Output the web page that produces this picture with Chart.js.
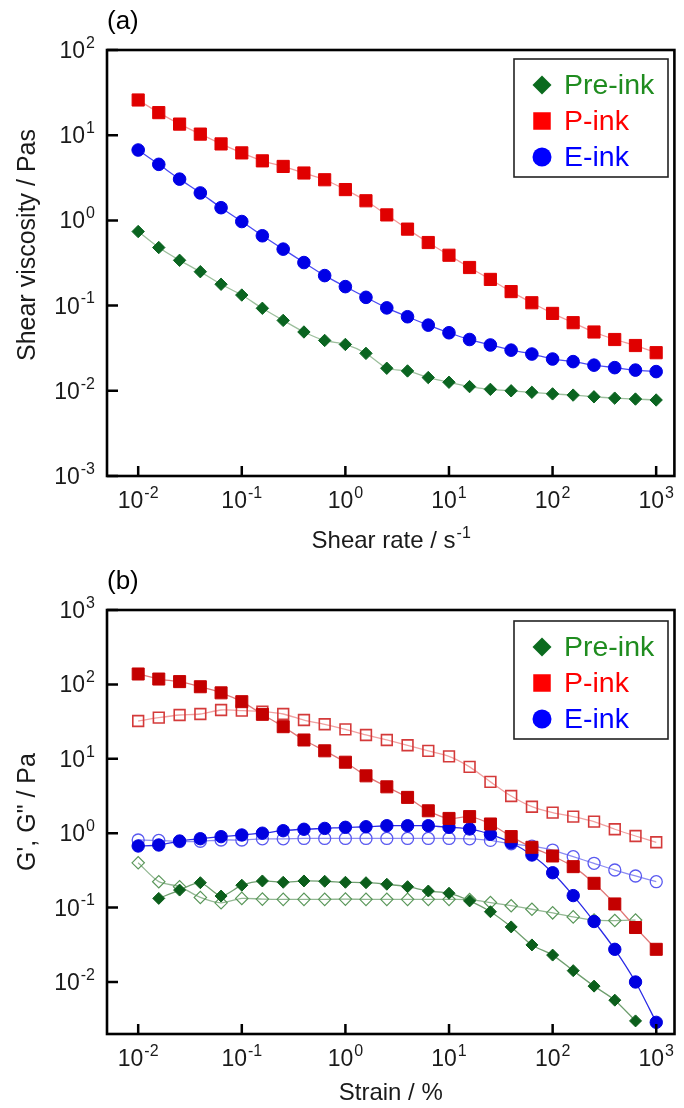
<!DOCTYPE html>
<html>
<head>
<meta charset="utf-8">
<script src="https://cdn.jsdelivr.net/npm/chart.js@4.4.1/dist/chart.umd.min.js"></script>
<style>
  html, body { margin: 0; padding: 0; background: #fff; }
  canvas { position: absolute; left: 0; }
  #chartA { top: 0; }
  #chartB { top: 560px; }
</style>
</head>
<body>
<canvas id="chartA" width="684" height="560"></canvas>
<canvas id="chartB" width="684" height="548"></canvas>
<script>
// ---- (a) steady shear viscosity ----
const shearRate = [0.01, 0.0158, 0.0251, 0.0398, 0.0631, 0.1, 0.158, 0.251, 0.398, 0.631,
  1, 1.58, 2.51, 3.98, 6.31, 10, 15.8, 25.1, 39.8, 63.1, 100, 158, 251, 398, 631, 1000];
const viscPre = [0.74, 0.48, 0.34, 0.25, 0.178, 0.133, 0.093, 0.067, 0.049, 0.039,
  0.035, 0.0275, 0.0184, 0.0171, 0.0143, 0.0126, 0.0112, 0.0104, 0.0100, 0.0096,
  0.0092, 0.0089, 0.0085, 0.0082, 0.0080, 0.0078];
const viscP = [25.9, 18.4, 13.5, 10.3, 7.9, 6.2, 5.0, 4.3, 3.6, 3.0,
  2.3, 1.7, 1.16, 0.79, 0.55, 0.39, 0.28, 0.203, 0.146, 0.108,
  0.081, 0.063, 0.049, 0.040, 0.034, 0.028];
const viscE = [6.7, 4.55, 3.05, 2.1, 1.41, 0.97, 0.66, 0.46, 0.32, 0.225,
  0.167, 0.125, 0.094, 0.074, 0.059, 0.048, 0.040, 0.0345, 0.030, 0.027,
  0.0236, 0.022, 0.020, 0.0187, 0.0175, 0.0168];

// ---- (b) amplitude sweep, storage (G') and loss (G'') moduli ----
const strain = [0.01, 0.0158, 0.0251, 0.0398, 0.0631, 0.1, 0.158, 0.251, 0.398, 0.631,
  1, 1.58, 2.51, 3.98, 6.31, 10, 15.8, 25.1, 39.8, 63.1, 100, 158, 251, 398, 631, 1000];
const gPrimePre = [null, 0.133, 0.172, 0.216, 0.143, 0.200, 0.228, 0.219, 0.228, 0.226,
  0.219, 0.216, 0.206, 0.191, 0.167, 0.156, 0.123, 0.088, 0.055, 0.0315,
  0.023, 0.0142, 0.0088, 0.0057, 0.0030, null];
const gDoublePre = [0.40, 0.223, 0.191, 0.137, 0.116, 0.133, 0.130, 0.129, 0.129, 0.129,
  0.130, 0.129, 0.129, 0.129, 0.129, 0.129, 0.128, 0.117, 0.106, 0.095,
  0.085, 0.075, 0.068, 0.067, 0.068, null];
const gPrimeP = [138, 118, 109, 93, 77, 58.6, 39.6, 27, 17.9, 12.8,
  9.0, 5.9, 4.2, 3.03, 2.0, 1.58, 1.67, 1.33, 0.90, 0.646,
  0.494, 0.355, 0.212, 0.112, 0.054, 0.0275];
const gDoubleP = [32.2, 35.7, 38.8, 40, 45.3, 44.4, 43, 40, 33.2, 29.1,
  24.9, 20.9, 17.9, 15.2, 12.8, 10.8, 7.8, 4.9, 3.16, 2.27,
  1.89, 1.67, 1.43, 1.13, 0.917, 0.755];
const gPrimeE = [0.673, 0.694, 0.785, 0.843, 0.898, 0.946, 1.0, 1.08, 1.13, 1.16,
  1.2, 1.22, 1.26, 1.26, 1.26, 1.2, 1.14, 0.966, 0.745, 0.509,
  0.294, 0.145, 0.065, 0.0275, 0.010, 0.00287];
const gDoubleE = [0.81, 0.80, 0.77, 0.78, 0.81, 0.81, 0.84, 0.84, 0.85, 0.85,
  0.85, 0.85, 0.85, 0.85, 0.85, 0.85, 0.84, 0.80, 0.72, 0.67,
  0.594, 0.483, 0.394, 0.32, 0.266, 0.223];

const legendItems = [
  { label: 'Pre-ink', shape: 'diamond', fill: '#0b6b1e', text: '#1f8c1f' },
  { label: 'P-ink',   shape: 'square',  fill: '#ff0000', text: '#ff0000' },
  { label: 'E-ink',   shape: 'circle',  fill: '#0000ff', text: '#0000ff' }
];

const FONT = '"Liberation Sans", Arial, Helvetica, sans-serif';
const TICK_SIZE = 23;
const TITLE_SIZE = 24;
const Y_TITLE_SIZE = 25;

function toPoints(xs, ys) {
  const pts = [];
  xs.forEach((x, i) => { if (ys[i] != null) pts.push({ x: x, y: ys[i] }); });
  return pts;
}

// "10" with a raised exponent
function powLabel(ctx, exp, x, baseline, align, size) {
  const supSize = Math.round(size * 0.68);
  const base = '10', sup = String(exp);
  ctx.font = size + 'px ' + FONT;
  const wb = ctx.measureText(base).width;
  ctx.font = supSize + 'px ' + FONT;
  const ws = ctx.measureText(sup).width;
  const total = wb + 1 + ws;
  const left = align === 'center' ? x - total / 2 : x - total;
  ctx.textAlign = 'left';
  ctx.textBaseline = 'alphabetic';
  ctx.font = size + 'px ' + FONT;
  ctx.fillText(base, left, baseline);
  ctx.font = supSize + 'px ' + FONT;
  ctx.fillText(sup, left + wb + 1, baseline - size * 0.44);
}

function marker(ctx, shape, x, y, color) {
  ctx.fillStyle = color;
  ctx.beginPath();
  if (shape === 'diamond') {
    const r = 9.5;
    ctx.moveTo(x, y - r); ctx.lineTo(x + r, y); ctx.lineTo(x, y + r); ctx.lineTo(x - r, y);
    ctx.closePath();
  } else if (shape === 'square') {
    const s = 17.5;
    ctx.rect(x - s / 2, y - s / 2, s, s);
  } else {
    ctx.arc(x, y, 9.5, 0, Math.PI * 2);
  }
  ctx.fill();
}

function decades(scale) {
  const out = [];
  const lo = Math.ceil(Math.log10(scale.min) - 1e-9);
  const hi = Math.floor(Math.log10(scale.max) + 1e-9);
  for (let e = lo; e <= hi; e++) out.push(e);
  return out;
}

// frame with inward ticks, power-of-ten labels, titles, panel tag and legend box
const decorations = {
  id: 'decorations',
  afterDatasetsDraw(chart, args, o) {
    const { ctx, chartArea: a, scales } = chart;
    const xs = scales.x, ys = scales.y;
    ctx.save();
    ctx.fillStyle = '#000';
    ctx.strokeStyle = '#000';

    // ticks
    ctx.lineWidth = 2.5;
    ctx.beginPath();
    decades(xs).forEach(e => {
      const px = xs.getPixelForValue(Math.pow(10, e));
      ctx.moveTo(px, a.bottom); ctx.lineTo(px, a.bottom - 10);
    });
    decades(ys).forEach(e => {
      const py = ys.getPixelForValue(Math.pow(10, e));
      ctx.moveTo(a.left, py); ctx.lineTo(a.left + 11, py);
    });
    ctx.stroke();

    // frame
    ctx.lineWidth = 2.6;
    ctx.strokeRect(a.left, a.top, a.right - a.left, a.bottom - a.top);

    // tick labels
    ctx.fillStyle = '#1a1a1a';
    decades(xs).forEach(e => {
      powLabel(ctx, e, xs.getPixelForValue(Math.pow(10, e)), a.bottom + o.xLabelGap, 'center', TICK_SIZE);
    });
    decades(ys).forEach(e => {
      powLabel(ctx, e, 95, ys.getPixelForValue(Math.pow(10, e)) + 8, 'right', TICK_SIZE);
    });

    // axis titles
    ctx.font = Y_TITLE_SIZE + 'px ' + FONT;
    ctx.textAlign = 'center';
    ctx.textBaseline = 'middle';
    ctx.save();
    ctx.translate(o.yTitleX, o.yTitleY);
    ctx.rotate(-Math.PI / 2);
    ctx.fillText(o.yTitle, 0, 0);
    ctx.restore();

    const cx = (a.left + a.right) / 2;
    ctx.font = TITLE_SIZE + 'px ' + FONT;
    const wMain = ctx.measureText(o.xTitle).width;
    let wSup = 0;
    if (o.xTitleSup) {
      ctx.font = '16px ' + FONT;
      wSup = ctx.measureText(o.xTitleSup).width;
    }
    const left = cx - (wMain + wSup) / 2;
    ctx.textAlign = 'left';
    ctx.textBaseline = 'alphabetic';
    ctx.font = TITLE_SIZE + 'px ' + FONT;
    ctx.fillText(o.xTitle, left, a.bottom + o.xTitleGap);
    if (o.xTitleSup) {
      ctx.font = '16px ' + FONT;
      ctx.fillText(o.xTitleSup, left + wMain + 1, a.bottom + o.xTitleGap - 10);
    }

    // panel tag
    ctx.fillStyle = '#000';
    ctx.font = '26px ' + FONT;
    ctx.textAlign = 'left';
    ctx.textBaseline = 'middle';
    ctx.fillText(o.panel, a.left, a.top - 28);

    // legend box
    const box = { l: 514, r: 668, t: a.top + o.legendTop, b: a.top + o.legendTop + 118 };
    ctx.fillStyle = '#fff';
    ctx.fillRect(box.l, box.t, box.r - box.l, box.b - box.t);
    ctx.lineWidth = 1.6;
    ctx.strokeStyle = '#222';
    ctx.strokeRect(box.l, box.t, box.r - box.l, box.b - box.t);
    legendItems.forEach((it, i) => {
      const yy = box.t + 26 + i * 36;
      marker(ctx, it.shape, 542, yy, it.fill);
      ctx.fillStyle = it.text;
      ctx.font = '28.5px ' + FONT;
      ctx.textAlign = 'left';
      ctx.textBaseline = 'middle';
      ctx.fillText(it.label, 564, yy + 1);
    });
    ctx.restore();
  }
};
Chart.register(decorations);

function lineSet(xs, ys, opt) {
  return Object.assign({
    data: toPoints(xs, ys),
    borderWidth: 1.3,
    pointBorderWidth: 1,
    tension: 0.25,
    fill: false
  }, opt);
}

function logAxis(min, max) {
  return { type: 'logarithmic', min: min, max: max, display: false };
}

function baseOptions(yMin, yMax, pad, deco) {
  return {
    responsive: false,
    animation: false,
    layout: { padding: pad },
    scales: { x: logAxis(0.005, 1500), y: logAxis(yMin, yMax) },
    plugins: { legend: { display: false }, tooltip: { enabled: false }, decorations: deco },
    elements: { point: { hoverRadius: 0 } }
  };
}

new Chart(document.getElementById('chartA'), {
  type: 'line',
  data: {
    datasets: [
      lineSet(shearRate, viscP, {
        label: 'P-ink', borderColor: '#f29a9a', pointStyle: 'rect', pointRadius: 8.6,
        pointBackgroundColor: '#e00000', pointBorderColor: '#e00000'
      }),
      lineSet(shearRate, viscE, {
        label: 'E-ink', borderColor: '#4a4af2', pointStyle: 'circle', pointRadius: 6.3,
        pointBackgroundColor: '#0000e6', pointBorderColor: '#0000e6'
      }),
      lineSet(shearRate, viscPre, {
        label: 'Pre-ink', borderColor: '#9dbf9d', pointStyle: 'rectRot', pointRadius: 6.2,
        pointBackgroundColor: '#0a6420', pointBorderColor: '#0a6420'
      })
    ]
  },
  options: baseOptions(0.001, 100, { left: 107, right: 5, top: 50, bottom: 84 }, {
    panel: '(a)', yTitle: 'Shear viscosity / Pas', yTitleX: 28, yTitleY: 245,
    xTitle: 'Shear rate / s', xTitleSup: '-1', xLabelGap: 32, xTitleGap: 72, legendTop: 9
  })
});

new Chart(document.getElementById('chartB'), {
  type: 'line',
  data: {
    datasets: [
      lineSet(strain, gPrimeP, {
        label: "P-ink G'", order: 0, borderColor: '#e07878', pointStyle: 'rect', pointRadius: 8.5,
        pointBackgroundColor: '#c40000', pointBorderColor: '#c40000'
      }),
      lineSet(strain, gDoubleP, {
        label: 'P-ink G"', order: 1, borderColor: '#f0a0a0', pointStyle: 'rect', pointRadius: 7.6,
        pointBackgroundColor: 'rgba(255,255,255,0)', pointBorderColor: '#d43a3a', pointBorderWidth: 1.6
      }),
      lineSet(strain, gPrimeE, {
        label: "E-ink G'", order: 0, borderColor: '#2a2ae6', pointStyle: 'circle', pointRadius: 6.2,
        pointBackgroundColor: '#0000e0', pointBorderColor: '#0000e0'
      }),
      lineSet(strain, gDoubleE, {
        label: 'E-ink G"', order: 1, borderColor: '#8c8cf2', pointStyle: 'circle', pointRadius: 6,
        pointBackgroundColor: 'rgba(255,255,255,0)', pointBorderColor: '#5a5af0', pointBorderWidth: 1.3
      }),
      lineSet(strain, gPrimePre, {
        label: "Pre-ink G'", order: 0, borderColor: '#6f9f6f', pointStyle: 'rectRot', pointRadius: 6,
        pointBackgroundColor: '#0b5e1b', pointBorderColor: '#0b5e1b'
      }),
      lineSet(strain, gDoublePre, {
        label: 'Pre-ink G"', order: 1, borderColor: '#93b893', pointStyle: 'rectRot', pointRadius: 6.2,
        pointBackgroundColor: 'rgba(255,255,255,0)', pointBorderColor: '#5a975a', pointBorderWidth: 1.2
      })
    ]
  },
  options: baseOptions(0.002, 1000, { left: 107, right: 5, top: 50, bottom: 74 }, {
    panel: '(b)', yTitle: 'G\', G" / Pa', yTitleX: 28, yTitleY: 252,
    xTitle: 'Strain / %', xTitleSup: '', xLabelGap: 32, xTitleGap: 66, legendTop: 11
  })
});
</script>
</body>
</html>
